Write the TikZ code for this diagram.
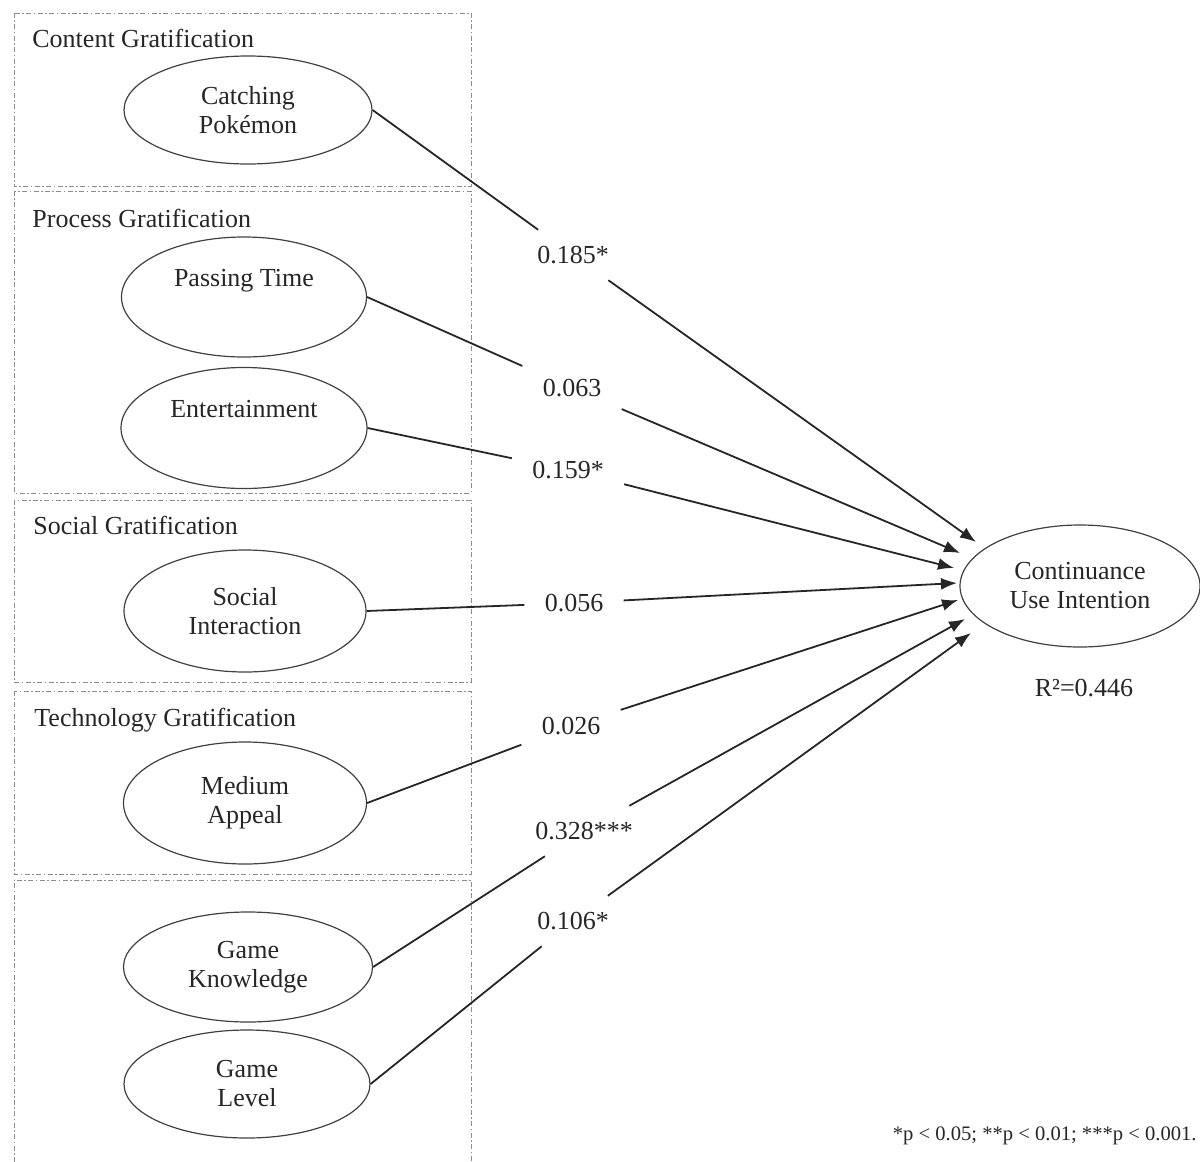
\documentclass[tikz,border=0pt]{standalone}
\usepackage{fontspec}
\setmainfont{Liberation Serif}
\usetikzlibrary{shapes.geometric,arrows.meta}

\begin{document}
\begin{tikzpicture}[x=0.5pt,y=-0.5pt,
  every node/.style={font=\fontsize{13}{14.5}\selectfont, text=black!85},
  grp/.style={draw=gray!90, line width=0.5pt, dash pattern=on 2.5pt off 1.2pt on 0.8pt off 1.2pt},
  grptitle/.style={anchor=base west, inner sep=0pt},
  factor/.style={draw=black!75, ellipse, line width=0.6pt, align=center, inner sep=0pt},
  coef/.style={inner xsep=10pt, inner ysep=8pt},
  effect/.style={draw=black!85, line width=0.9pt},
  tip/.style={-{Latex[length=8pt,width=6pt]}}]
\useasboundingbox (0,0) rectangle (1200,1162);
\draw[grp] (14,13) rectangle (471,186);
\draw[grp] (14,191) rectangle (471,493);
\draw[grp] (14,500) rectangle (471,682);
\draw[grp] (14,691) rectangle (471,874);
\draw[grp] (14,1162) -- (14,880) -- (471,880) -- (471,1162);
\node[grptitle] (cgrat) at (32,47) {Content Gratification};
\node[grptitle] (pgrat) at (32,227) {Process Gratification};
\node[grptitle] (sgrat) at (33,534) {Social Gratification};
\node[grptitle] (tgrat) at (34,726) {Technology Gratification};
\node[factor, minimum width=124pt, minimum height=54pt] (catch) at (248,110) {Catching\\Pokémon};
\node[factor, minimum width=122.5pt, minimum height=60pt] (pass) at (244,297) {Passing Time\\\strut};
\node[factor, minimum width=123pt, minimum height=60.5pt] (ent) at (244,428) {Entertainment\\\strut};
\node[factor, minimum width=121pt, minimum height=61pt] (soc) at (245,611) {Social\\Interaction};
\node[factor, minimum width=121.5pt, minimum height=61pt] (med) at (245,803) {Medium\\Appeal};
\node[factor, minimum width=124.5pt, minimum height=55pt] (know) at (248,967) {Game\\Knowledge};
\node[factor, minimum width=123pt, minimum height=54pt] (lvl) at (247,1084) {Game\\Level};
\node[factor, minimum width=120pt, minimum height=61pt] (ciu) at (1080,586) {Continuance\\Use Intention};
\node (rsq) at (1084,688) {R²=0.446};
\node[coef] (c1) at (573,255) {0.185*};
\node[coef] (c2) at (572,388) {0.063};
\node[coef] (c3) at (568,470) {0.159*};
\node[coef] (c4) at (574,603) {0.056};
\node[coef] (c5) at (571,726) {0.026};
\node[coef] (c6) at (584,831) {0.328***};
\node[coef] (c7) at (573,921) {0.106*};
\coordinate (t1) at (976,542);
\coordinate (t2) at (960,553);
\coordinate (t3) at (954,568);
\coordinate (t4) at (957,583);
\coordinate (t5) at (958,600);
\coordinate (t6) at (965,619);
\coordinate (t7) at (971,633);
\draw[effect] (catch.east) -- (c1);
\draw[effect,tip] (c1) -- (t1);
\draw[effect] (pass.east) -- (c2);
\draw[effect,tip] (c2) -- (t2);
\draw[effect] (ent.east) -- (c3);
\draw[effect,tip] (c3) -- (t3);
\draw[effect] (soc.east) -- (c4);
\draw[effect,tip] (c4) -- (t4);
\draw[effect] (med.east) -- (c5);
\draw[effect,tip] (c5) -- (t5);
\draw[effect] (know.east) -- (c6);
\draw[effect,tip] (c6) -- (t6);
\draw[effect] (lvl.east) -- (c7);
\draw[effect,tip] (c7) -- (t7);
\node[anchor=east, inner sep=0pt, font=\fontsize{10.3}{12}\selectfont] (note) at (1197,1136) {*p < 0.05; **p < 0.01; ***p < 0.001.};
\end{tikzpicture}
\end{document}
